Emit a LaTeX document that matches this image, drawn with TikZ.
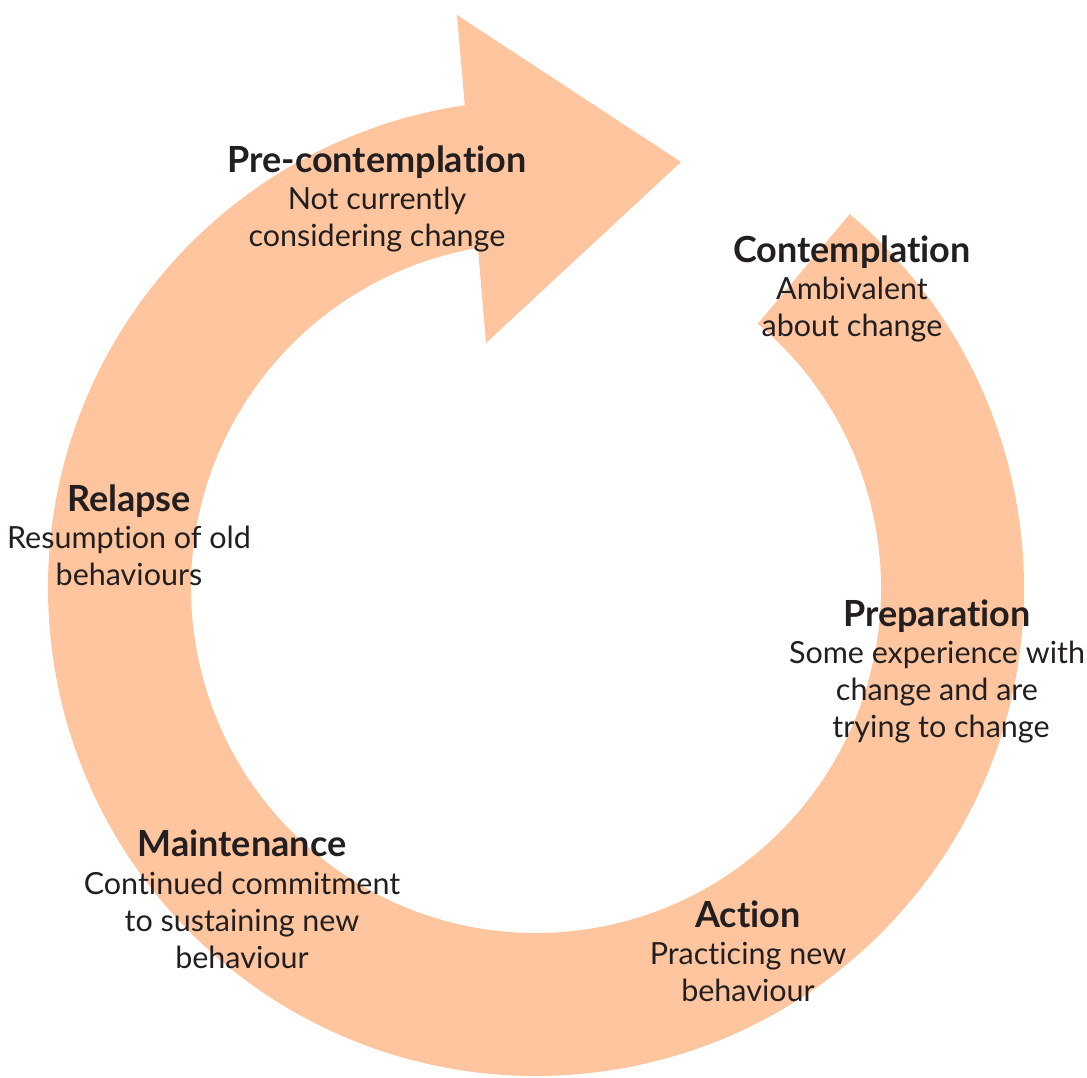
\documentclass[tikz,border=0pt]{standalone}
\usepackage{fontspec}
\setmainfont{Lato}[Ligatures={NoCommon,NoRare}]
\usetikzlibrary{calc}
\definecolor{ringfill}{RGB}{255,197,158}
\definecolor{inkdark}{HTML}{231F20}
\newcommand{\stagehead}[1]{{\fontsize{36}{37}\selectfont\bfseries #1}}
\tikzset{
  stagelabel/.style={anchor=base, inner sep=0pt, text=inkdark,
    font=\fontsize{30.5}{37}\selectfont}
}
\renewcommand{\arraystretch}{1}
\begin{document}
\begin{tikzpicture}[x=1pt, y=1pt]
  \useasboundingbox (0,0) rectangle (1087,1077);
  % centre of the cycle ring
  \coordinate (C) at (536,489);
  % the ring with its arrow head at the top
  \fill[ringfill] ($(C)+(50:488)$)
    arc[start angle=50, end angle=-261.6, radius=488]
    -- (457,1062) coordinate (barbout)
    -- (681,915) coordinate (tip)
    -- (486,734) coordinate (barbin)
    -- ($(C)+(-260.3:345)$)
    arc[start angle=-260.3, end angle=50, radius=345]
    -- cycle;

  % stage labels
  \node[stagelabel] (pre) at (377,904)
    {\begin{tabular}[t]{@{}c@{}}\stagehead{Pre-contemplation}\\ Not currently\\ considering change\end{tabular}};
  \node[stagelabel] (con) at (852,814)
    {\begin{tabular}[t]{@{}c@{}}\stagehead{Contemplation}\\ Ambivalent\\ about change\end{tabular}};
  \node[stagelabel] (prep) at (937,450)
    {\begin{tabular}[t]{@{}c@{}}\stagehead{Preparation}\\ Some experience with\\ change and are\\ \hspace*{8pt}trying to change\end{tabular}};
  \node[stagelabel] (act) at (748,150)
    {\begin{tabular}[t]{@{}c@{}}\stagehead{Action}\\ Practicing new\\ behaviour\end{tabular}};
  \node[stagelabel] (main) at (242,220)
    {\begin{tabular}[t]{@{}c@{}}\stagehead{Maintenance}\\ Continued commitment\\ to sustaining new\\ behaviour\end{tabular}};
  \node[stagelabel] (rel) at (129,565)
    {\begin{tabular}[t]{@{}c@{}}\stagehead{Relapse}\\ Resumption of old\\ behaviours\end{tabular}};
\end{tikzpicture}
\end{document}
